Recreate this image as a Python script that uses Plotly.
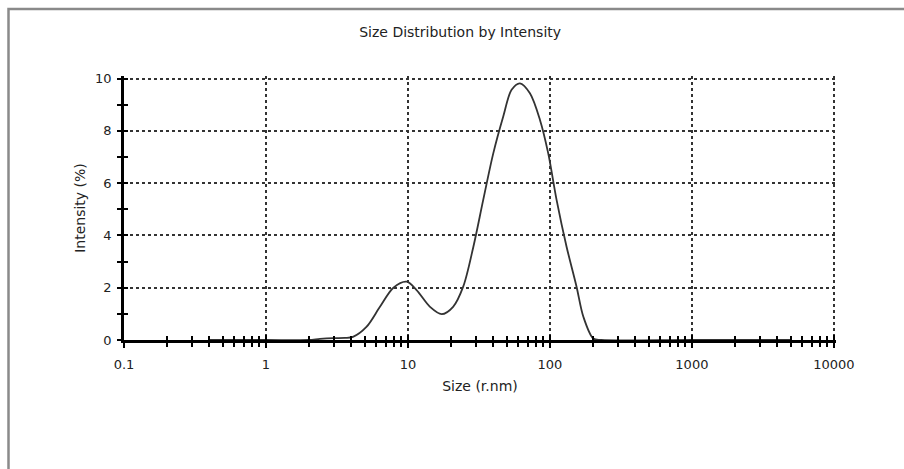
import plotly.graph_objects as go

# Data (size in r.nm, intensity in %)
size_nm = [0.4, 1.0, 2.0, 2.4, 3.0, 3.6, 4.1, 5.1, 6.35, 7.9, 9.8, 11.5, 14.3, 17.3,
           20.8, 24.5, 28.9, 33.9, 39.9, 46.9, 53.7, 61.5, 72.3, 85.1, 97.3, 111.4,
           131.0, 154.0, 172.0, 202.0, 230.0, 1000.0, 5000.0]
intensity_pct = [0.0, 0.0, 0.0, 0.04, 0.07, 0.08, 0.12, 0.5, 1.27, 2.0, 2.23, 1.91, 1.27, 0.99,
                 1.27, 2.04, 3.57, 5.36, 7.14, 8.55, 9.57, 9.82, 9.44, 8.42, 7.14, 5.36,
                 3.57, 2.04, 0.89, 0.06, 0.0, 0.0, 0.0]

x_tick_vals = [0.1, 1, 10, 100, 1000, 10000]
x_tick_text = ["0.1", "1", "10", "100", "1000", "10000"]
y_tick_vals = [0, 2, 4, 6, 8, 10]

title_text = "Size Distribution by Intensity"
x_title = "Size (r.nm)"
y_title = "Intensity (%)"

FONT = "DejaVu Sans"
INK = "#222222"

fig = go.Figure()
fig.add_trace(go.Scatter(
    x=size_nm, y=intensity_pct, mode="lines",
    line=dict(color="#333333", width=1.8, shape="spline", smoothing=0.9),
    hoverinfo="skip", showlegend=False,
))
# invisible trace to carry the overlay axes (inside tick marks)
fig.add_trace(go.Scatter(x=[1], y=[0], xaxis="x2", yaxis="y2", mode="markers",
                         marker=dict(opacity=0), showlegend=False, hoverinfo="skip"))

XR = [-1, 4.015]
YR = [0, 10.1]

fig.update_layout(
    width=904, height=469,
    margin=dict(l=124, r=68, t=76, b=129),
    paper_bgcolor="white", plot_bgcolor="white",
    font=dict(family=FONT, color=INK, size=13),
    title=dict(text=title_text, x=0.509, xanchor="center", y=1 - 32 / 469, yanchor="middle",
               font=dict(family=FONT, size=14, color=INK)),
    xaxis=dict(
        type="log", range=XR,
        tickvals=x_tick_vals, ticktext=x_tick_text,
        ticks="outside", ticklen=5, tickwidth=1.5, tickcolor="black",
        ticklabelstandoff=6,
        showline=True, linecolor="black", linewidth=2.5,
        showgrid=True, gridcolor="#333333", griddash="dot", gridwidth=1.5,
        zeroline=False,
        minor=dict(ticks="outside", ticklen=4, tickwidth=1.5, tickcolor="black",
                   dtick="D1", showgrid=False),
        title=dict(text=x_title, standoff=10, font=dict(family=FONT, size=14, color=INK)),
        tickfont=dict(family=FONT, size=13, color=INK),
    ),
    yaxis=dict(
        range=YR, tickvals=y_tick_vals,
        ticks="outside", ticklen=4, tickwidth=1.5, tickcolor="black",
        ticklabelstandoff=3,
        showline=True, linecolor="black", linewidth=2.5,
        showgrid=True, gridcolor="#333333", griddash="dot", gridwidth=1.5,
        zeroline=False,
        minor=dict(ticks="outside", ticklen=4, tickwidth=1.5, tickcolor="black",
                   dtick=1, showgrid=False),
        title=dict(text=y_title, standoff=7, font=dict(family=FONT, size=14, color=INK)),
        tickfont=dict(family=FONT, size=13, color=INK),
    ),
    xaxis2=dict(
        type="log", range=XR, overlaying="x", anchor="y2", side="bottom",
        tickvals=x_tick_vals, ticks="inside", ticklen=5, tickwidth=1.5, tickcolor="black",
        showticklabels=False, showgrid=False, zeroline=False, showline=False,
        minor=dict(ticks="inside", ticklen=4, tickwidth=1.5, tickcolor="black", dtick="D1"),
    ),
    yaxis2=dict(
        range=YR, overlaying="y", anchor="x2", side="left",
        tickvals=y_tick_vals, ticks="inside", ticklen=4, tickwidth=1.5, tickcolor="black",
        showticklabels=False, showgrid=False, zeroline=False, showline=False,
        minor=dict(ticks="inside", ticklen=4, tickwidth=1.5, tickcolor="black", dtick=1),
    ),
    shapes=[dict(type="rect", xref="paper", yref="paper",
                 x0=(8.5 - 124) / 712, x1=(915 - 124) / 712,
                 y0=(340 - 480) / 264, y1=(340 - 9) / 264,
                 line=dict(color="#8a8a8a", width=2.5), fillcolor="rgba(0,0,0,0)",
                 layer="below")],
)

fig.write_html("out.html")
